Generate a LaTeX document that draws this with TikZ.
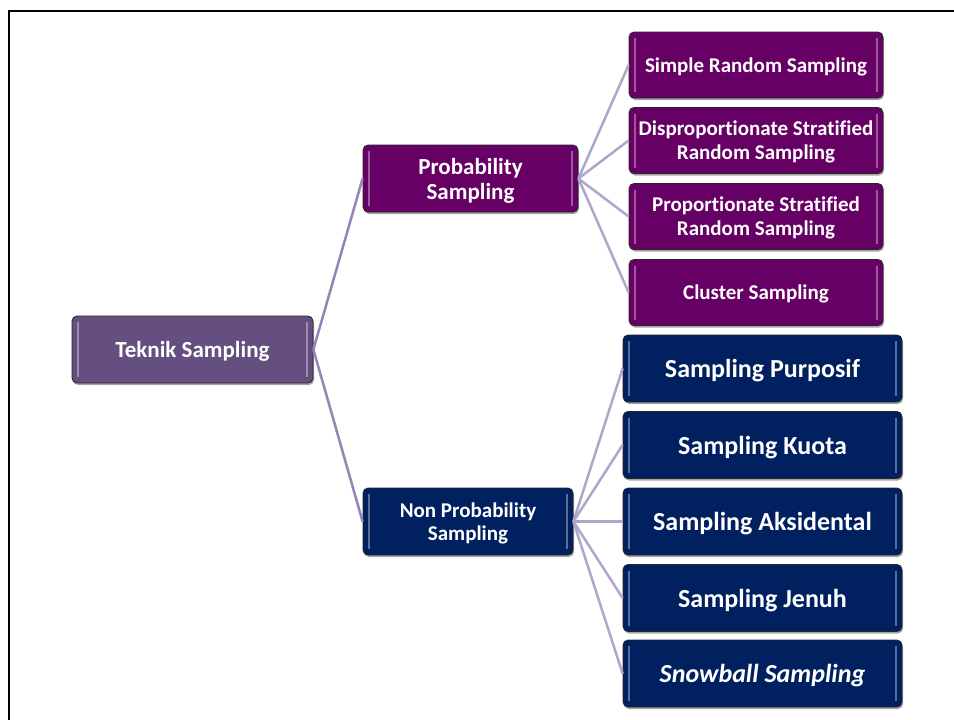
\documentclass[tikz,border=0pt]{standalone}
\usepackage{fontspec}
\setmainfont{Carlito}[Ligatures=NoCommon]
\usetikzlibrary{shadows}
\definecolor{tekfill}{RGB}{101,79,128}
\definecolor{probfill}{RGB}{102,0,100}
\definecolor{nonfill}{RGB}{0,32,96}
\definecolor{linkA}{RGB}{150,132,182}
\definecolor{linkB}{RGB}{176,166,204}
\tikzset{
  box/.style={draw=black!85, line width=0.8pt, rounded corners=5pt, text=white,
    align=center, inner sep=0pt, text depth=0pt,
    drop shadow={shadow xshift=1pt, shadow yshift=-2pt, opacity=0.35, fill=black},
    path picture={
      \draw[white, opacity=0.35, line width=2pt]
        ([xshift=6pt,yshift=-6pt]path picture bounding box.north west) --
        ([xshift=6pt,yshift=6pt]path picture bounding box.south west);
      \draw[white, opacity=0.35, line width=2pt]
        ([xshift=-6pt,yshift=-6pt]path picture bounding box.north east) --
        ([xshift=-6pt,yshift=6pt]path picture bounding box.south east);
    }},
  rootbox/.style={box, fill=tekfill, minimum width=241pt, minimum height=67pt,
    font=\fontsize{23}{25}\selectfont\bfseries},
  probbox/.style={box, fill=probfill, minimum height=67pt,
    font=\fontsize{23}{25}\selectfont\bfseries},
  nonbox/.style={box, fill=nonfill, minimum height=67pt,
    font=\fontsize{21}{23}\selectfont\bfseries},
  pleaf/.style={box, fill=probfill, minimum width=254pt, minimum height=66pt,
    font=\fontsize{21}{24}\selectfont\bfseries},
  nleaf/.style={box, fill=nonfill, minimum width=279pt, minimum height=67pt,
    font=\fontsize{26}{28}\selectfont\bfseries},
  linkroot/.style={draw=linkA, line width=2.5pt},
  linkleaf/.style={draw=linkB, line width=2.5pt}
}
\begin{document}
\begin{tikzpicture}[x=1pt,y=-1pt]
\useasboundingbox (0,0) rectangle (954,720);
\fill[white] (0,0) rectangle (954,720);
% page frame
\draw[line width=2.6pt, black] (8.8,720) -- (8.8,11) -- (954,11);

\node[rootbox] (tek) at (192.5,349.5) {Teknik Sampling};
\node[probbox, minimum width=215pt] (prob) at (470.5,178.5) {Probability\\Sampling};
\node[nonbox, minimum width=210pt] (nonp) at (468,521.5) {Non Probability\\Sampling};

\node[pleaf] (s1) at (756,65) {Simple Random Sampling};
\node[pleaf] (s2) at (756,140.5) {Disproportionate Stratified\\Random Sampling};
\node[pleaf] (s3) at (756,216.5) {Proportionate Stratified\\Random Sampling};
\node[pleaf] (s4) at (756,292.5) {Cluster Sampling};

\node[nleaf] (n1) at (762.5,368.5) {Sampling Purposif};
\node[nleaf] (n2) at (762.5,445) {Sampling Kuota};
\node[nleaf] (n3) at (762.5,521.5) {Sampling Aksidental};
\node[nleaf] (n4) at (762.5,598) {Sampling Jenuh};
\node[nleaf] (n5) at (762.5,673.5) {\itshape Snowball Sampling};

\draw[linkroot] (tek.east) -- (prob.west);
\draw[linkroot] (tek.east) -- (nonp.west);
\foreach \c in {s1,s2,s3,s4} {\draw[linkleaf] (prob.east) -- (\c.west);}
\foreach \c in {n1,n2,n3,n4,n5} {\draw[linkleaf] (nonp.east) -- (\c.west);}
\end{tikzpicture}
\end{document}
